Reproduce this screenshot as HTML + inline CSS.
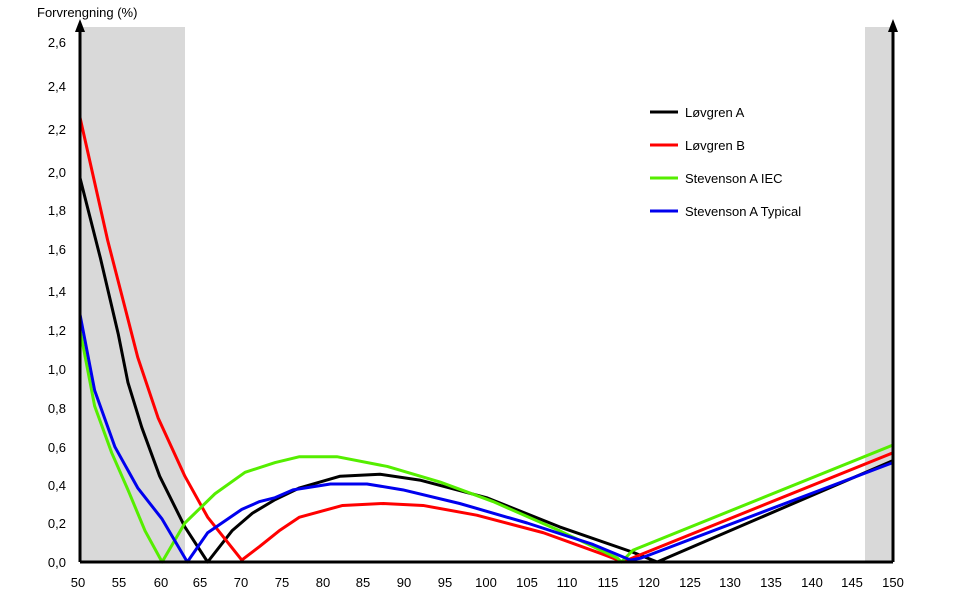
<!DOCTYPE html>
<html><head><meta charset="utf-8"><style>
body{margin:0;background:#fff;}
svg{display:block;font-family:"Liberation Sans",sans-serif;}
</style></head><body>
<svg width="975" height="612" viewBox="0 0 975 612">
<rect x="80" y="27" width="105" height="535" fill="#d9d9d9"/>
<rect x="865" y="27" width="28" height="535" fill="#d9d9d9"/>
<g transform="translate(80,562) scale(8.13,-195)" fill="none" stroke-width="3" stroke-linejoin="round">
<polyline vector-effect="non-scaling-stroke" stroke="#000" points="0,1.97 2.5,1.56 4.7,1.17 5.9,0.92 7.6,0.69 9.8,0.44 12.9,0.18 15.7,0 18.7,0.16 21.2,0.25 24,0.32 27,0.38 32,0.44 36.9,0.45 41.8,0.42 50,0.33 59,0.18 68,0.05 71,0 100,0.52"/>
<polyline vector-effect="non-scaling-stroke" stroke="#ff0000" points="0,2.28 3.4,1.65 5.5,1.31 7.1,1.05 9.6,0.74 12.9,0.44 15.7,0.23 19.9,0.01 22.1,0.08 24.5,0.16 27,0.23 32.3,0.29 37.3,0.3 42.2,0.29 48.8,0.24 57,0.15 64.3,0.04 66.8,0 68.5,0.03 100,0.56"/>
<polyline vector-effect="non-scaling-stroke" stroke="#55ee00" points="0,1.19 1.8,0.8 3.9,0.56 5.9,0.37 8,0.16 10.1,0 12.9,0.2 16.6,0.35 20.3,0.46 24,0.51 27,0.54 31.6,0.54 37.8,0.49 44.3,0.41 50.8,0.31 59,0.16 66.1,0.02 66.6,0 68,0.06 100,0.6"/>
<polyline vector-effect="non-scaling-stroke" stroke="#0000ee" points="0,1.27 1.8,0.88 4.3,0.59 7.1,0.38 10.1,0.22 13.2,0 15.7,0.15 19.9,0.27 22.1,0.31 24,0.33 26.2,0.37 30.8,0.4 35.3,0.4 39.7,0.37 46.7,0.3 55,0.2 63.1,0.09 67.7,0.01 69,0.02 100,0.51"/>
</g>
<line x1="80" y1="562" x2="893" y2="562" stroke="#000" stroke-width="3"/>
<line x1="80" y1="562" x2="80" y2="28" stroke="#000" stroke-width="3"/>
<line x1="893" y1="562" x2="893" y2="28" stroke="#000" stroke-width="3"/>
<polygon points="80,19 75,32 85,32" fill="#000"/>
<polygon points="893,19 888,32 898,32" fill="#000"/>
<text x="37" y="17" font-size="13">Forvrengning (%)</text>
<g font-size="13" text-anchor="end">
<text x="66" y="567">0,0</text><text x="66" y="528">0,2</text><text x="66" y="490">0,4</text><text x="66" y="452">0,6</text><text x="66" y="413">0,8</text><text x="66" y="374">1,0</text><text x="66" y="335">1,2</text><text x="66" y="296">1,4</text><text x="66" y="254">1,6</text><text x="66" y="215">1,8</text><text x="66" y="177">2,0</text><text x="66" y="134">2,2</text><text x="66" y="91">2,4</text><text x="66" y="47">2,6</text>
</g>
<g font-size="13" text-anchor="middle">
<text x="78" y="587">50</text><text x="119" y="587">55</text><text x="161" y="587">60</text><text x="200" y="587">65</text><text x="241" y="587">70</text><text x="282" y="587">75</text><text x="323" y="587">80</text><text x="363" y="587">85</text><text x="404" y="587">90</text><text x="445" y="587">95</text><text x="486" y="587">100</text><text x="527" y="587">105</text><text x="567" y="587">110</text><text x="608" y="587">115</text><text x="649" y="587">120</text><text x="690" y="587">125</text><text x="730" y="587">130</text><text x="771" y="587">135</text><text x="812" y="587">140</text><text x="852" y="587">145</text><text x="893" y="587">150</text>
</g>
<g stroke-width="3">
<line x1="650" y1="112" x2="678" y2="112" stroke="#000"/>
<line x1="650" y1="145" x2="678" y2="145" stroke="#ff0000"/>
<line x1="650" y1="178" x2="678" y2="178" stroke="#55ee00"/>
<line x1="650" y1="211" x2="678" y2="211" stroke="#0000ee"/>
</g>
<g font-size="13">
<text x="685" y="117">Løvgren A</text>
<text x="685" y="150">Løvgren B</text>
<text x="685" y="183">Stevenson A IEC</text>
<text x="685" y="216">Stevenson A Typical</text>
</g>
</svg>
</body></html>
